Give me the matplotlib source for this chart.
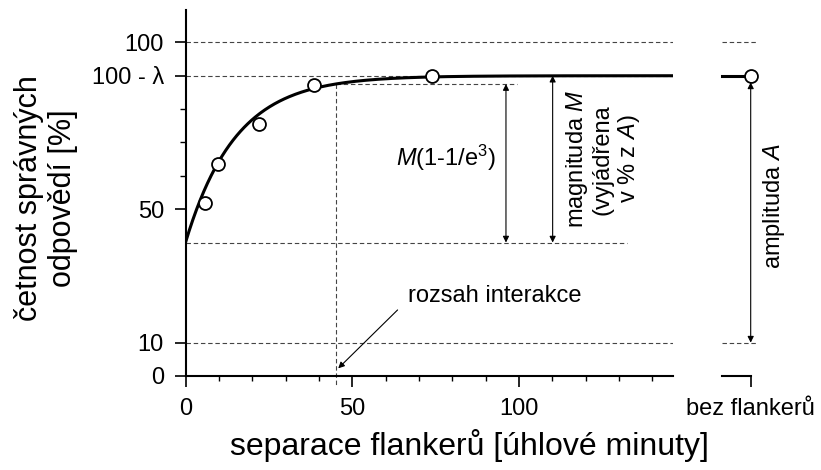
import numpy as np
import matplotlib
matplotlib.use("Agg")
import matplotlib.pyplot as plt

plt.rcParams['font.family'] = ['Liberation Sans', 'DejaVu Sans']
plt.rcParams['mathtext.fontset'] = 'custom'
plt.rcParams['mathtext.rm'] = 'Liberation Sans'
plt.rcParams['mathtext.it'] = 'Liberation Sans:italic'

# ---- data ----
sep_x = [5.7, 9.7, 21.9, 38.6, 73.9]          # separace flankerů [úhlové minuty]
acc_y = [52.0, 63.5, 75.5, 87.2, 89.9]        # četnost správných odpovědí [%]
no_flank_y = [89.9]                           # bez flankerů
lam = 10.0          # lapse rate λ
M = 50.0            # magnitude
R = 45.0            # rozsah interakce
x_max = 146.1
y_max = 109.7
x_major = [0, 50, 100]
x_minor = [10, 20, 30, 40, 60, 70, 80, 90, 110, 120, 130, 140]
y_major = [0, 10, 50, 100 - lam, 100]
y_major_labels = ['0', '10', '50', '100 - λ', '100']
y_minor = [60, 70, 80]

asym = 100 - lam
base = asym - M
r_level = asym - M * np.exp(-3)

fig = plt.figure(figsize=(8.21, 4.70), dpi=100)
W, H = 821.0, 470.0
ax = fig.add_axes([185.5 / W, 1 - 376 / H, (672.7 - 185.5) / W, (376 - 10) / H])
ax2 = fig.add_axes([721.7 / W, 1 - 376 / H, (750.7 - 721.7) / W, (376 - 10) / H])

dash = dict(color='#444444', lw=0.8, ls=(0, (4, 2.5)))
FS = 17
MS = 9.3

# main panel
ax.set_xlim(0, x_max)
ax.set_ylim(0, y_max)
for s in ['top', 'right']:
    ax.spines[s].set_visible(False)
for s in ['left', 'bottom']:
    ax.spines[s].set_linewidth(1.5)

for yv in [100, asym, 10]:
    ax.axhline(yv, **dash, zorder=1)
ax.plot([0, 132.4], [base, base], **dash, zorder=1)
ax.plot([R, 99.4], [r_level, r_level], **dash, zorder=1)
ax.plot([R, R], [r_level, -3.3], **dash, zorder=1, clip_on=False)

xs = np.linspace(0, x_max, 400)
ax.plot(xs, asym - M * np.exp(-3 * xs / R), color='black', lw=2.2, zorder=3)
ax.plot(sep_x, acc_y, 'o', ms=MS, mfc='white', mec='black', mew=1.3, zorder=4, clip_on=False)

ax.set_xticks(x_major)
ax.set_xticks(x_minor, minor=True)
ax.set_yticks(y_major)
ax.set_yticklabels(y_major_labels)
ax.set_yticks(y_minor, minor=True)
ax.tick_params(which='major', direction='out', length=8, width=1.2, labelsize=FS, pad=7.5)
ax.tick_params(which='minor', direction='out', length=3.5, width=1.0)
ax.tick_params(axis='y', which='minor', length=4.3)

fig.text(469 / W, 1 - 445 / H, 'separace flankerů [úhlové minuty]', fontsize=23,
         ha='center', va='center')
fig.text(46 / W, 1 - 198 / H, 'četnost správných\nodpovědí [%]', fontsize=22, rotation=90,
         ha='center', va='center', multialignment='center', linespacing=1.18)

arr = dict(arrowstyle='<|-|>', color='black', lw=0.8, mutation_scale=9, shrinkA=0, shrinkB=0)
ax.annotate('', xy=(96.1, base), xytext=(96.1, r_level), arrowprops=arr)
ax.annotate('', xy=(110.1, base), xytext=(110.1, asym), arrowprops=arr)
ax.text(93.0, 65.3, r'$M$(1-1/e$^{3}$)', ha='right', va='center', fontsize=FS)
ax.text(125.2, 65.0, 'magnituda $M$\n(vyjádřena\nv % z $A$)', rotation=90, ha='center', va='center',
        fontsize=FS, multialignment='center', linespacing=1.1)
ax.text(92.8, 24.0, 'rozsah interakce', ha='center', va='center', fontsize=FS)
ax.annotate('', xy=(45.8, 2.3), xytext=(63.6, 19.8),
            arrowprops=dict(arrowstyle='-|>', color='black', lw=0.8, mutation_scale=9,
                            shrinkA=0, shrinkB=0))

# second panel (bez flankerů)
ax2.set_xlim(0, 1)
ax2.set_ylim(0, y_max)
for s in ['top', 'right', 'left']:
    ax2.spines[s].set_visible(False)
ax2.spines['bottom'].set_linewidth(1.5)
ax2.set_yticks([])
ax2.set_xticks([1])
ax2.set_xticklabels(['bez flankerů'])
ax2.tick_params(axis='x', direction='out', length=8, width=1.2, labelsize=FS, pad=7.5)
ax2.plot([0, 1.17], [100, 100], **dash, clip_on=False)
ax2.plot([0, 1.17], [10, 10], **dash, clip_on=False)
ax2.plot([0, 1], [asym, asym], color='black', lw=2.2, clip_on=False, zorder=3)
ax2.plot([1], no_flank_y, 'o', ms=MS, mfc='white', mec='black', mew=1.3, zorder=4, clip_on=False)
ax2.annotate('', xy=(1, 10), xytext=(1, asym - 2.0), arrowprops=arr)
ax2.text(1.8, 51, 'amplituda $A$', rotation=90, ha='center', va='center', fontsize=FS)

fig.savefig('out.png', dpi=100)
